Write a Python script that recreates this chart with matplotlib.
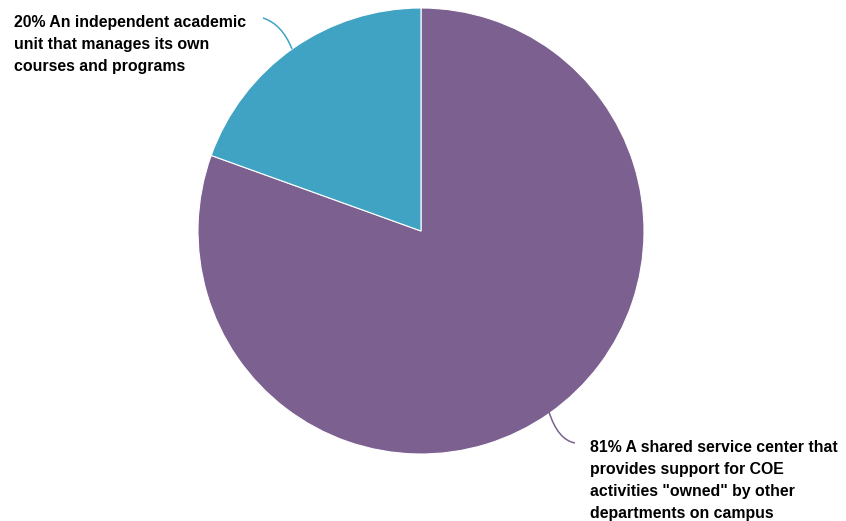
import matplotlib.pyplot as plt
from matplotlib.path import Path
from matplotlib.patches import PathPatch

labels = ["A shared service center that\nprovides support for COE\nactivities \"owned\" by other\ndepartments on campus",
          "An independent academic\nunit that manages its own\ncourses and programs"]
values = [80.5, 19.5]
pct_text = ["81%", "20%"]
colors = ["#7c6190", "#40a3c4"]

plt.rcParams['font.family'] = ['Liberation Sans', 'DejaVu Sans']

W, H = 846, 521
fig = plt.figure(figsize=(W / 100, H / 100), dpi=100)
ax = fig.add_axes([0, 0, 1, 1])

cx, cy, r = 421, H - 231, 223
ax.pie(values, colors=colors, startangle=90, counterclock=False,
       center=(cx, cy), radius=r, frame=True,
       wedgeprops=dict(edgecolor="white", linewidth=0.8))
ax.set_xlim(0, W)
ax.set_ylim(0, H)
ax.set_aspect('equal')
ax.axis('off')


def leader(p0, ctrl, p1, color):
    # curved connector from slice edge to label
    pts = [(p0[0], H - p0[1]), (ctrl[0], H - ctrl[1]), (p1[0], H - p1[1])]
    path = Path(pts, [Path.MOVETO, Path.CURVE3, Path.CURVE3])
    ax.add_patch(PathPatch(path, fc='none', ec=color, lw=1.1))


# big slice label (bottom right)
leader((549, 412), (558, 440), (575, 443), colors[0])
ax.text(590, H - 440, pct_text[0] + " " + labels[0], ha='left', va='top',
        fontsize=11.4, fontweight='bold', linespacing=1.58)

# small slice label (top left)
leader((292, 49), (282, 24), (263, 18), colors[1])
ax.text(14, H - 15, pct_text[1] + " " + labels[1], ha='left', va='top',
        fontsize=11.4, fontweight='bold', linespacing=1.58)

fig.savefig("out.png", dpi=100)
